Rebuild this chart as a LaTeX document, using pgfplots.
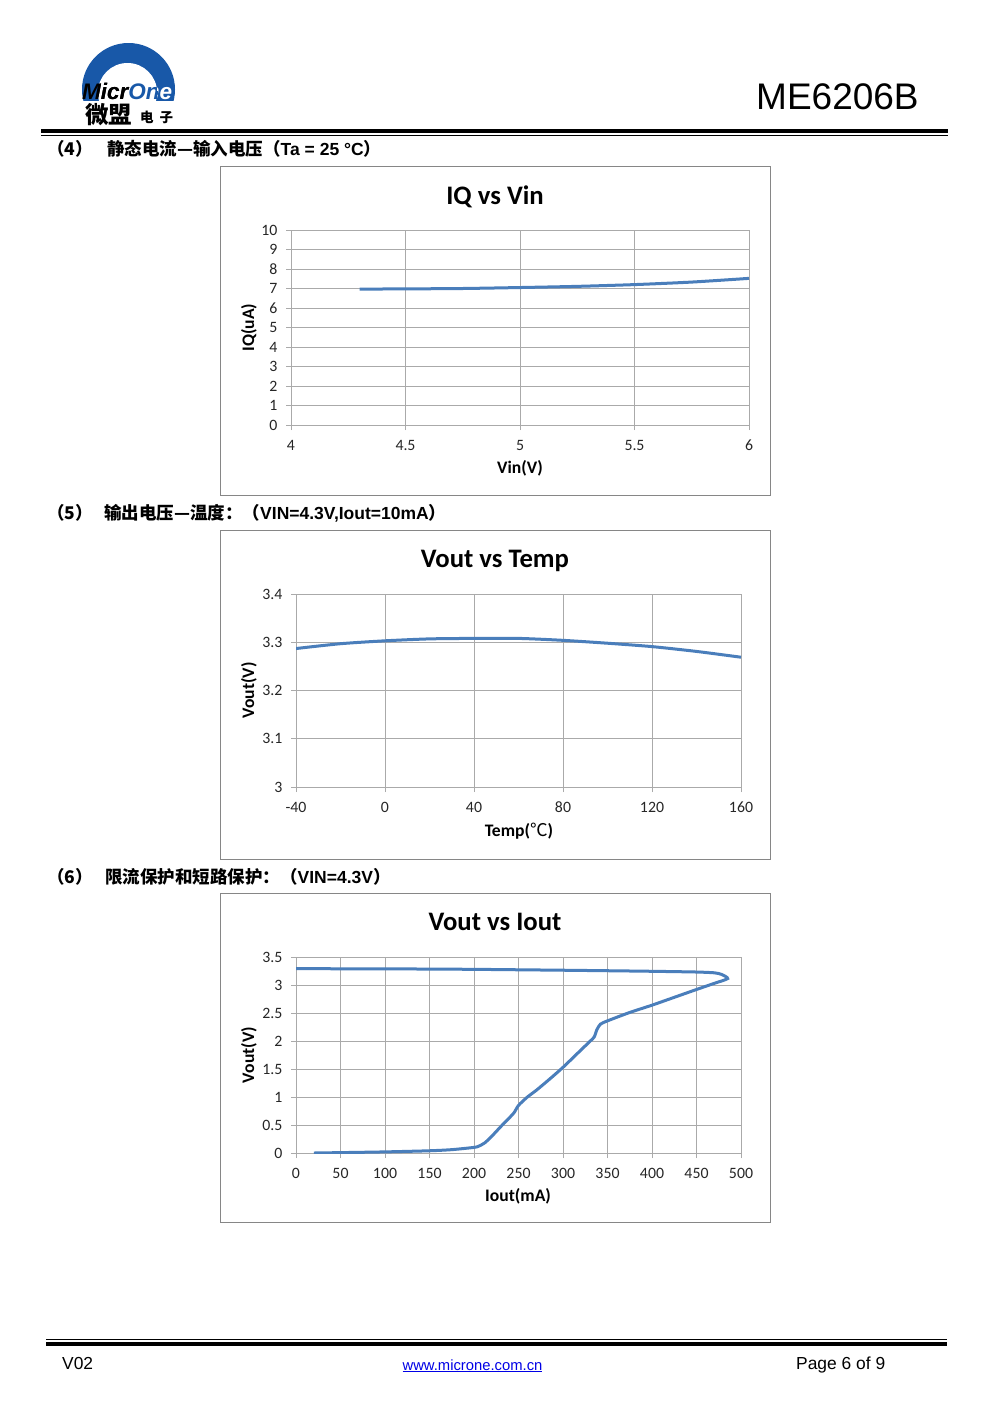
\documentclass[border=0pt]{standalone}
\usepackage{fontspec}
\setmainfont{Liberation Sans}
\newfontfamily\carlito{Carlito}
\newfontfamily\cjk{Noto Sans CJK SC}
\usepackage{pgfplots}
\pgfplotsset{compat=1.18}

\definecolor{xlblue}{RGB}{74,126,187}
\definecolor{gridc}{RGB}{170,170,170}
\definecolor{boxc}{RGB}{134,134,134}
\definecolor{logoblue}{RGB}{24,88,168}
\definecolor{linkblue}{RGB}{0,0,230}

\newcommand\hf{\fontsize{17.5}{18}\selectfont}

\pgfplotsset{
  xlchart/.style={
    scale only axis, anchor=south west,
    axis line style={gridc, line width=1pt},
    grid=major, major grid style={gridc, line width=1pt},
    xtick pos=left, ytick pos=left,
    tick align=outside, major tick length=5pt,
    tick style={gridc, line width=1pt},
    ticklabel style={font=\carlito\fontsize{15.8}{16}\selectfont, text=black!85},
    /pgf/number format/assume math mode=true,
    xticklabel style={yshift=-7pt, text height=10pt, text depth=1pt},
    yticklabel style={xshift=-5pt},
    label style={font=\carlito\bfseries\fontsize{17.6}{18}\selectfont},
    title style={font=\carlito\bfseries\fontsize{26.7}{28}\selectfont, anchor=center},
  },
  xlline/.style={xlblue, line width=3pt, smooth, tension=0.4, mark=none},
}

\begin{document}
\begin{tikzpicture}
\fill[white] (0pt,0pt) rectangle (991pt,-1403pt);

\begin{scope}[x=1pt,y=-1pt]
  % logo
  \begin{scope}
    \clip (70,30) rectangle (190,100);
    \fill[logoblue] (128.5,89.5) circle[radius=46.5pt];
    \fill[white] (127.5,92.6) circle[radius=29.6pt];
  \end{scope}
  \node[anchor=base west, inner sep=0, font=\bfseries\itshape\fontsize{22.5}{23}\selectfont] at (82,99)
    {Micr\textcolor{white}{One}};
  \begin{scope}
    \clip (127.5,92.6) circle[radius=29.6pt];
    \node[anchor=base west, inner sep=0, font=\bfseries\itshape\fontsize{22.5}{23}\selectfont] at (82,99)
      {Micr\textcolor{logoblue}{One}};
  \end{scope}
  \node[anchor=base west, inner sep=0, font=\cjk\bfseries\fontsize{23.5}{24}\selectfont] at (85,123) {微盟};
  \node[anchor=base west, inner sep=0, font=\cjk\bfseries\fontsize{13.5}{14}\selectfont] at (140,122.5) {电};
  \node[anchor=base west, inner sep=0, font=\cjk\bfseries\fontsize{13.5}{14}\selectfont] at (159.5,122.5) {子};

  \node[anchor=base west, inner sep=0, font=\fontsize{37}{38}\selectfont] at (756,109.5) {ME6206B};

  % header rules
  \fill[black] (41,128.5) rectangle (948,133);
  \fill[black] (41,135) rectangle (948,136.3);

  % section headings
  \node[anchor=base west, inner sep=0, font=\cjk\bfseries\hf] at (47,155.5) {（4）};
  \node[anchor=base west, inner sep=0] at (107,155.5)
    {{\cjk\bfseries\hf 静态电流—输入电压（}{\bfseries\hf Ta = 25 °C}{\cjk\bfseries\hf ）}};
  \node[anchor=base west, inner sep=0, font=\cjk\bfseries\hf] at (47,519.5) {（5）};
  \node[anchor=base west, inner sep=0] at (104,519.5)
    {{\cjk\bfseries\hf 输出电压—温度：（}{\bfseries\hf VIN=4.3V,Iout=10mA}{\cjk\bfseries\hf ）}};
  \node[anchor=base west, inner sep=0, font=\cjk\bfseries\hf] at (47,883.5) {（6）};
  \node[anchor=base west, inner sep=0] at (105,883.5)
    {{\cjk\bfseries\hf 限流保护和短路保护：（}{\bfseries\hf VIN=4.3V}{\cjk\bfseries\hf ）}};

  % chart frames
  \draw[boxc, line width=1pt] (220.5,166.5) rectangle (770.5,495.5);
  \draw[boxc, line width=1pt] (220.5,530.5) rectangle (770.5,859.5);
  \draw[boxc, line width=1pt] (220.5,893.5) rectangle (770.5,1222.5);

  % footer rules and text
  \fill[black] (46,1338.7) rectangle (947,1339.9);
  \fill[black] (46,1341.5) rectangle (947,1346.2);
  \node[anchor=base west, inner sep=0, font=\fontsize{17.4}{18}\selectfont] at (62,1369.5) {V02};
  \node[anchor=base, inner sep=0, font=\fontsize{14.8}{15}\selectfont, text=linkblue] at (472.5,1370) {\underline{www.microne.com.cn}};
  \node[anchor=base west, inner sep=0, font=\fontsize{17.4}{18}\selectfont] at (796,1369.5) {Page 6 of 9};
\end{scope}

% chart 1: IQ vs Vin
\begin{axis}[xlchart,
  at={(291pt,-425pt)}, width=458pt, height=195pt,
  xmin=4, xmax=6, ymin=0, ymax=10,
  xtick={4,4.5,5,5.5,6}, xticklabels={4,4.5,5,5.5,6},
  ytick={0,1,...,10}, yticklabels={0,1,2,3,4,5,6,7,8,9,10},
  title={IQ vs Vin}, title style={at={(axis description cs:0.4454,1.138)}},
  xlabel={Vin(V)}, xlabel style={at={(axis description cs:0.5,-0.2205)}, anchor=center},
  ylabel={IQ(uA)}, ylabel style={at={(axis description cs:-0.0917,0.5)}, anchor=center},
]
\addplot[xlline] coordinates {
  (4.3,6.97) (4.5,6.98) (4.75,7.00) (5.0,7.05) (5.25,7.11) (5.5,7.20) (5.75,7.33) (6.0,7.52)
};
\end{axis}

% chart 2: Vout vs Temp
\begin{axis}[xlchart,
  at={(296pt,-787pt)}, width=445pt, height=193pt,
  xmin=-40, xmax=160, ymin=3, ymax=3.4,
  xtick={-40,0,40,80,120,160}, xticklabels={-40,0,40,80,120,160},
  ytick={3,3.1,3.2,3.3,3.4}, yticklabels={3,3.1,3.2,3.3,3.4},
  title={Vout vs Temp}, title style={at={(axis description cs:0.447,1.14)}},
  xlabel={Temp({\cjk\mdseries ℃})}, xlabel style={at={(axis description cs:0.501,-0.228)}, anchor=center},
  ylabel={Vout(V)}, ylabel style={at={(axis description cs:-0.1056,0.5)}, anchor=center},
]
\addplot[xlline] coordinates {
  (-40,3.287) (-20,3.297) (0,3.303) (20,3.307) (40,3.308) (60,3.308)
  (80,3.304) (100,3.298) (120,3.291) (140,3.281) (160,3.269)
};
\end{axis}

% chart 3: Vout vs Iout
\begin{axis}[xlchart,
  at={(296pt,-1153pt)}, width=445pt, height=196pt,
  xmin=0, xmax=500, ymin=0, ymax=3.5,
  xtick={0,50,...,500}, xticklabels={0,50,100,150,200,250,300,350,400,450,500},
  ytick={0,0.5,...,3.5}, yticklabels={0,0.5,1,1.5,2,2.5,3,3.5},
  title={Vout vs Iout}, title style={at={(axis description cs:0.447,1.148)}},
  xlabel={Iout(mA)}, xlabel style={at={(axis description cs:0.499,-0.219)}, anchor=center},
  ylabel={Vout(V)}, ylabel style={at={(axis description cs:-0.1056,0.5)}, anchor=center},
]
\addplot[xlline] coordinates {
  (0,3.292) (50,3.290) (100,3.288) (150,3.285) (200,3.280) (250,3.272) (300,3.264)
  (350,3.255) (400,3.245) (450,3.232) (470,3.218) (478,3.19) (485,3.115)
  (470,3.03) (450,2.92) (425,2.78) (400,2.64) (375,2.51) (350,2.36) (342,2.30)
  (338,2.20) (335,2.07) (330,1.99) (315,1.76) (300,1.53) (285,1.32) (270,1.12)
  (260,1.00) (250,0.85) (245,0.72) (238,0.60) (230,0.47) (220,0.30) (212,0.18)
  (205,0.12) (200,0.10) (175,0.06) (150,0.04) (100,0.02) (50,0.007) (20,0.0)
};
\end{axis}
\end{tikzpicture}
\end{document}
